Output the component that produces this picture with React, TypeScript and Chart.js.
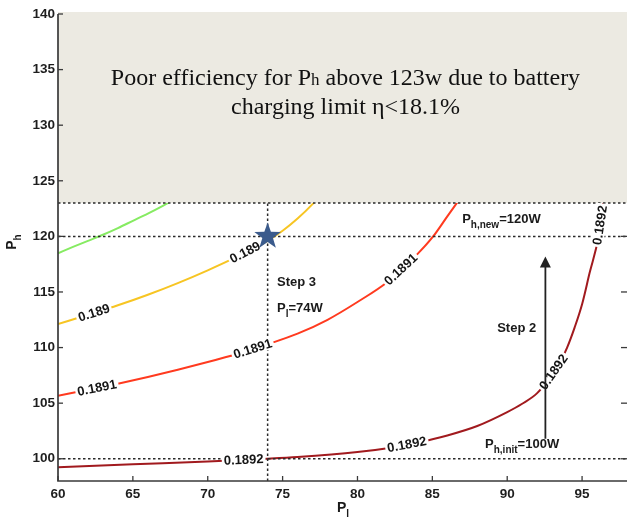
import { useEffect, useRef } from "react";
import { Chart, registerables } from "chart.js";

Chart.register(...registerables);

// Axis ticks
const xTickValues = [60, 65, 70, 75, 80, 85, 90, 95];
const yTickValues = [100, 105, 110, 115, 120, 125, 130, 135, 140];

// Efficiency contours (P_l in W, P_h in W)
const greenX = [60, 61, 62, 63, 64, 65, 66, 67, 68, 69];
const greenY = [118.48, 119.05, 119.6, 120.15, 120.75, 121.4, 122.05, 122.75, 123.5, 124.3];

const yellowX = [60, 62, 64, 66, 68, 70, 72, 74, 75, 76, 77, 78];
const yellowY = [112.12, 112.95, 113.8, 114.75, 115.8, 116.95, 118.2, 119.6, 120.5, 121.6, 122.9, 124.4];

const redX = [60, 62, 64, 66, 68, 70, 72, 74, 76, 78, 80, 82, 84, 85, 86, 87];
const redY = [105.67, 106.2, 106.75, 107.35, 108.0, 108.7, 109.45, 110.3, 111.25, 112.5, 114.1, 115.9, 118.4, 119.9, 121.8, 123.7];

const darkRedX = [60, 65, 70, 74, 76, 80, 82, 84, 86, 88, 90, 91, 92, 93, 93.5, 94, 94.5, 95, 95.5, 96.1, 96.4, 96.6];
const darkRedY = [99.23, 99.5, 99.76, 100.0, 100.15, 100.6, 100.95, 101.45, 102.1, 102.95, 104.2, 104.95, 105.9, 107.6, 108.6, 110.0, 111.8, 113.9, 116.7, 120.0, 123.0, 125.5];

// Contour level labels: [series, P_l position, text]
const contourLabels: [number, number, string][] = [
  [1, 62.4, "0.189"],
  [1, 72.5, "0.189"],
  [2, 62.6, "0.1891"],
  [2, 73.0, "0.1891"],
  [2, 82.9, "0.1891"],
  [3, 72.4, "0.1892"],
  [3, 83.3, "0.1892"],
  [3, 93.1, "0.1892"],
  [3, 96.2, "0.1892"],
];

// Operating limits and steps
const limitPh = 123;
const initPh = 100;
const newPh = 120;
const stepPl = 74;
const starPoint = [74, 120];
const arrowX = 92.55;
const arrowFrom = 101.8;
const arrowTo = 118.2;

const seriesX = [greenX, yellowX, redX, darkRedX];
const seriesY = [greenY, yellowY, redY, darkRedY];
const seriesColors = ["#86EB62", "#F7C523", "#FF3A1F", "#A11A1E"];

function interpY(xs: number[], ys: number[], v: number) {
  for (let i = 0; i < xs.length - 1; i++) {
    if (v >= xs[i] && v <= xs[i + 1]) {
      const t = (v - xs[i]) / (xs[i + 1] - xs[i]);
      return ys[i] + t * (ys[i + 1] - ys[i]);
    }
  }
  return ys[ys.length - 1];
}

type Part = [string, boolean];

function drawRich(ctx: CanvasRenderingContext2D, x: number, y: number, parts: Part[], size: number, subSize: number, family: string, weight: string, subDrop: number) {
  let cx = x;
  ctx.textAlign = "left";
  ctx.textBaseline = "alphabetic";
  for (const [t, sub] of parts) {
    ctx.font = `${weight} ${sub ? subSize : size}px ${family}`;
    ctx.fillText(t, cx, sub ? y + subDrop : y);
    cx += ctx.measureText(t).width;
  }
  return cx - x;
}

function richWidth(ctx: CanvasRenderingContext2D, parts: Part[], size: number, subSize: number, family: string, weight: string) {
  let w = 0;
  for (const [t, sub] of parts) {
    ctx.font = `${weight} ${sub ? subSize : size}px ${family}`;
    w += ctx.measureText(t).width;
  }
  return w;
}

const SANS = "Arial, 'Liberation Sans', sans-serif";
const SERIF = "'Times New Roman', 'Liberation Serif', serif";

const overlayPlugin = {
  id: "overlay",
  afterDatasetsDraw(chart: any) {
    const { ctx, chartArea: a, scales } = chart;
    const xs = scales.x;
    const ys = scales.y;
    const px = (v: number) => xs.getPixelForValue(v);
    const py = (v: number) => ys.getPixelForValue(v);
    ctx.save();

    // Region above the charging limit
    ctx.fillStyle = "#ECEAE2";
    ctx.fillRect(a.left, a.top - 2, a.right - a.left, py(limitPh) - a.top + 2);

    // Dotted guide lines
    ctx.strokeStyle = "#2a2a2a";
    ctx.lineWidth = 1.5;
    ctx.setLineDash([2.5, 2.5]);
    for (const v of [limitPh, newPh, initPh]) {
      ctx.beginPath();
      ctx.moveTo(a.left, py(v));
      ctx.lineTo(a.right, py(v));
      ctx.stroke();
    }
    ctx.beginPath();
    ctx.moveTo(px(stepPl), a.bottom);
    ctx.lineTo(px(stepPl), py(limitPh));
    ctx.stroke();
    ctx.setLineDash([]);

    // Axis lines with inward ticks
    ctx.strokeStyle = "#3a3a3a";
    ctx.lineWidth = 1.7;
    ctx.beginPath();
    ctx.moveTo(a.left, a.top);
    ctx.lineTo(a.left, a.bottom);
    ctx.lineTo(a.right, a.bottom);
    ctx.stroke();
    ctx.lineWidth = 1.3;
    for (const v of xTickValues) {
      ctx.beginPath();
      ctx.moveTo(px(v), a.bottom);
      ctx.lineTo(px(v), a.bottom - 5);
      ctx.stroke();
    }
    for (const v of yTickValues) {
      ctx.beginPath();
      ctx.moveTo(a.left, py(v));
      ctx.lineTo(a.left + 5, py(v));
      ctx.stroke();
      if (v < limitPh) {
        ctx.beginPath();
        ctx.moveTo(a.right, py(v));
        ctx.lineTo(a.right - 6, py(v));
        ctx.stroke();
      }
    }

    // Contour labels along the curves
    ctx.font = `bold 13px ${SANS}`;
    ctx.textAlign = "center";
    ctx.textBaseline = "middle";
    for (const [s, lx, text] of contourLabels) {
      const cxv = seriesX[s];
      const cyv = seriesY[s];
      const ly = interpY(cxv, cyv, lx);
      const d = 0.25;
      const x0 = px(lx - d), y0 = py(interpY(cxv, cyv, lx - d));
      const x1 = px(lx + d), y1 = py(interpY(cxv, cyv, lx + d));
      const ang = Math.atan2(y1 - y0, x1 - x0);
      const w = ctx.measureText(text).width;
      ctx.save();
      ctx.translate(px(lx), py(ly));
      ctx.rotate(ang);
      ctx.fillStyle = "#ffffff";
      ctx.fillRect(-w / 2 - 2, -6, w + 4, 12);
      ctx.fillStyle = "#151515";
      ctx.fillText(text, 0, 0.5);
      ctx.restore();
    }

    // Step arrow
    ctx.strokeStyle = "#222";
    ctx.fillStyle = "#222";
    ctx.lineWidth = 1.8;
    const ax = px(arrowX);
    const tip = py(arrowTo);
    ctx.beginPath();
    ctx.moveTo(ax, py(arrowFrom));
    ctx.lineTo(ax, tip + 8);
    ctx.stroke();
    ctx.beginPath();
    ctx.moveTo(ax, tip);
    ctx.lineTo(ax - 5.5, tip + 11);
    ctx.lineTo(ax + 5.5, tip + 11);
    ctx.closePath();
    ctx.fill();

    // Annotations
    ctx.fillStyle = "#1a1a1a";
    drawRich(ctx, px(86.99), py(121.65) + 5, [["P", false], ["h,new", true], ["=120W", false]], 13, 10, SANS, "bold", 5);
    drawRich(ctx, px(88.52), py(101.42) + 5, [["P", false], ["h,init", true], ["=100W", false]], 13, 10, SANS, "bold", 5);
    drawRich(ctx, px(89.33), py(111.85) + 5, [["Step 2", false]], 13, 10, SANS, "bold", 5);
    drawRich(ctx, px(74.63), py(115.99) + 5, [["Step 3", false]], 13, 10, SANS, "bold", 5);
    drawRich(ctx, px(74.63), py(113.65) + 5, [["P", false], ["l", true], ["=74W", false]], 13, 10, SANS, "bold", 5);

    // Operating point
    const sx = px(starPoint[0]);
    const sy = py(starPoint[1]);
    const R = 14, r = 5.6;
    ctx.fillStyle = "#3B5B8C";
    ctx.beginPath();
    for (let i = 0; i < 10; i++) {
      const rr = i % 2 === 0 ? R : r;
      const t = -Math.PI / 2 + (i * Math.PI) / 5;
      const xx = sx + rr * Math.cos(t);
      const yy = sy + rr * Math.sin(t);
      if (i === 0) ctx.moveTo(xx, yy);
      else ctx.lineTo(xx, yy);
    }
    ctx.closePath();
    ctx.fill();

    // Note inside the shaded region
    ctx.fillStyle = "#111111";
    const line1: Part[] = [["Poor efficiency for P", false], ["h", true], [" above 123w due to battery", false]];
    const line2: Part[] = [["charging limit \u03b7<18.1%", false]];
    const cx = px(79.2);
    const w1 = richWidth(ctx, line1, 24, 17, SERIF, "normal");
    drawRich(ctx, cx - w1 / 2, py(133.6), line1, 24, 17, SERIF, "normal", 0);
    const w2 = richWidth(ctx, line2, 24, 17, SERIF, "normal");
    drawRich(ctx, cx - w2 / 2, py(131.05), line2, 24, 17, SERIF, "normal", 0);

    // Axis titles
    ctx.fillStyle = "#1a1a1a";
    const xw = richWidth(ctx, [["P", false], ["l", true]], 14, 10, SANS, "bold");
    drawRich(ctx, 343 - xw / 2, 512, [["P", false], ["l", true]], 14, 10, SANS, "bold", 5);
    ctx.save();
    ctx.translate(15.5, 242);
    ctx.rotate(-Math.PI / 2);
    const yw = richWidth(ctx, [["P", false], ["h", true]], 14, 10, SANS, "bold");
    drawRich(ctx, -yw / 2, 0, [["P", false], ["h", true]], 14, 10, SANS, "bold", 5);
    ctx.restore();

    ctx.restore();
  },
};

export default function App() {
  const ref = useRef<HTMLCanvasElement | null>(null);

  useEffect(() => {
    if (!ref.current) return;
    const datasets = seriesX.map((xsArr, s) => ({
      data: xsArr.map((x, i) => ({ x, y: seriesY[s][i] })),
      borderColor: seriesColors[s],
      borderWidth: 2,
      pointRadius: 0,
      fill: false,
      cubicInterpolationMode: "monotone" as const,
    }));
    const chart = new Chart(ref.current, {
      type: "line",
      data: { datasets },
      plugins: [overlayPlugin],
      options: {
        animation: false,
        responsive: false,
        devicePixelRatio: 1,
        layout: { padding: { top: 14, right: 0, left: 0, bottom: 0 } },
        plugins: { legend: { display: false }, tooltip: { enabled: false } },
        scales: {
          x: {
            type: "linear",
            min: 60,
            max: 98,
            afterFit: (s: any) => { s.height = 38; },
            afterBuildTicks: (s: any) => { s.ticks = xTickValues.map((v) => ({ value: v })); },
            grid: { display: false, drawTicks: false },
            border: { display: false },
            ticks: {
              autoSkip: false,
              maxRotation: 0,
              padding: 5,
              color: "#1e1e1e",
              font: { family: SANS, size: 13.5, weight: "bold" },
            },
          },
          y: {
            type: "linear",
            min: 98,
            max: 140,
            afterFit: (s: any) => { s.width = 58; },
            afterBuildTicks: (s: any) => { s.ticks = yTickValues.map((v) => ({ value: v })); },
            grid: { display: false, drawTicks: false },
            border: { display: false },
            ticks: {
              autoSkip: false,
              padding: 3,
              color: "#1e1e1e",
              font: { family: SANS, size: 13.5, weight: "bold" },
            },
          },
        },
      },
    });
    return () => chart.destroy();
  }, []);

  return (
    <div style={{ position: "fixed", left: 0, top: 0, width: 627, height: 519, background: "#fff" }}>
      <canvas ref={ref} width={627} height={519} style={{ display: "block" }} />
    </div>
  );
}
